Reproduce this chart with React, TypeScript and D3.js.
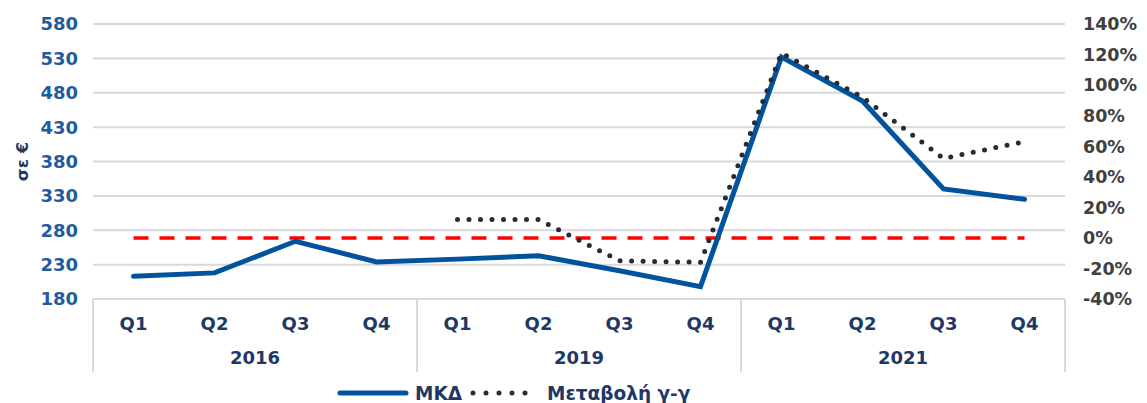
import React from 'react';
import * as d3 from 'd3';

// quarters, grouped by year
const years = ['2016', '2019', '2021'];
const quarters = ['Q1', 'Q2', 'Q3', 'Q4'];
// MKΔ in euros (left axis)
const mkdValues = [213, 218, 264, 234, 238, 243, 221, 198, 532, 468, 340, 325];
// year-on-year change in % (right axis), no value for 2016
const yoyValues: (number | null)[] = [null, null, null, null, 12, 12, -15, -16, 121, 92, 52, 63];
const zeroLine = [0, 0, 0, 0, 0, 0, 0, 0, 0, 0, 0, 0];
const leftTicks = [180, 230, 280, 330, 380, 430, 480, 530, 580];
const rightTicks = [-40, -20, 0, 20, 40, 60, 80, 100, 120, 140];

const W = 1147;
const H = 403;
const margin = { top: 24, right: 82, bottom: 104, left: 93 };

const font = '"DejaVu Sans", Verdana, sans-serif';

const App = () => {
  const innerBottom = H - margin.bottom;
  const keys = years.flatMap((y) => quarters.map((q) => `${y}-${q}`));

  const x = d3.scaleBand()
    .domain(keys)
    .range([margin.left, W - margin.right]);

  const yLeft = d3.scaleLinear().domain([180, 580]).range([innerBottom, margin.top]);
  const yRight = d3.scaleLinear().domain([-40, 140]).range([innerBottom, margin.top]);

  const cx = (i: number) => (x(keys[i]) as number) + x.bandwidth() / 2;

  const mkdLine = d3.line<number>()
    .x((_, i) => cx(i))
    .y((d) => yLeft(d));

  const yoyLine = d3.line<number | null>()
    .defined((d) => d !== null)
    .x((_, i) => cx(i))
    .y((d) => yRight(d as number));

  const zeroPath = d3.line<number>()
    .x((_, i) => cx(i))
    .y((d) => yRight(d));

  const x0 = margin.left;
  const x1 = W - margin.right;
  const boxBottom = innerBottom + 73;

  return (
    <svg width={W} height={H} style={{ position: 'absolute', left: 0, top: 0 }}>
      <rect width={W} height={H} fill="#fff" />
      {/* gridlines */}
      {leftTicks.map((t) => (
        <line key={t} x1={x0} x2={x1} y1={yLeft(t)} y2={yLeft(t)} stroke="#d9d9d9" strokeWidth={2} />
      ))}
      {/* left axis labels */}
      {leftTicks.map((t) => (
        <text key={`l${t}`} x={78} y={yLeft(t)} dy="0.36em" textAnchor="end"
          fontFamily={font} fontWeight="bold" fontSize={18} fill="#1f5c9e">{t}</text>
      ))}
      {/* right axis labels */}
      {rightTicks.map((t) => (
        <text key={`r${t}`} x={1083} y={yRight(t)} dy="0.36em" textAnchor="start"
          fontFamily={font} fontWeight="bold" fontSize={17.5} fill="#404040">{`${t}%`}</text>
      ))}
      {/* y title */}
      <text transform={`translate(28,${(margin.top + innerBottom) / 2}) rotate(-90)`} textAnchor="middle"
        fontFamily={font} fontWeight="bold" fontSize={16.5} fill="#1f3864">σε €</text>

      {/* category axis box */}
      {[0, 4, 8, 12].map((i) => {
        const xx = i < 12 ? (x(keys[i]) as number) : x1;
        return <line key={`v${i}`} x1={xx} x2={xx} y1={innerBottom} y2={boxBottom} stroke="#d9d9d9" strokeWidth={2} />;
      })}
      {keys.map((k, i) => (
        <text key={k} x={cx(i)} y={innerBottom + 25} dy="0.36em" textAnchor="middle"
          fontFamily={font} fontWeight="bold" fontSize={18} fill="#1f3864">{quarters[i % 4]}</text>
      ))}
      {years.map((yr, j) => (
        <text key={yr} x={((x(keys[j * 4]) as number) + (x(keys[j * 4 + 3]) as number) + x.bandwidth()) / 2}
          y={innerBottom + 59} dy="0.36em" textAnchor="middle"
          fontFamily={font} fontWeight="bold" fontSize={18} fill="#1f3864">{yr}</text>
      ))}

      {/* zero reference */}
      <path d={zeroPath(zeroLine) ?? ''} fill="none" stroke="#ff0000" strokeWidth={3.5}
        strokeDasharray="15 11" />
      {/* MKΔ */}
      <path d={mkdLine(mkdValues) ?? ''} fill="none" stroke="#00539c" strokeWidth={5}
        strokeLinejoin="miter" strokeLinecap="round" />
      {/* yoy */}
      <path d={yoyLine(yoyValues) ?? ''} fill="none" stroke="#262b36" strokeWidth={5}
        strokeDasharray="0 11.5" strokeLinecap="round" />

      {/* legend */}
      <g transform="translate(0,393)">
        <line x1={340} x2={406} y1={0} y2={0} stroke="#00539c" strokeWidth={5} strokeLinecap="round" />
        <text x={415} y={0} dy="0.36em" fontFamily={font} fontWeight="bold" fontSize={18.5} fill="#1f3864">ΜΚΔ</text>
        <line x1={473} x2={538} y1={0} y2={0} stroke="#262b36" strokeWidth={5} strokeDasharray="0 13" strokeLinecap="round" />
        <text x={547} y={0} dy="0.36em" fontFamily={font} fontWeight="bold" fontSize={18.5} fill="#1f3864">Μεταβολή γ-γ</text>
      </g>
    </svg>
  );
};

export default App;
